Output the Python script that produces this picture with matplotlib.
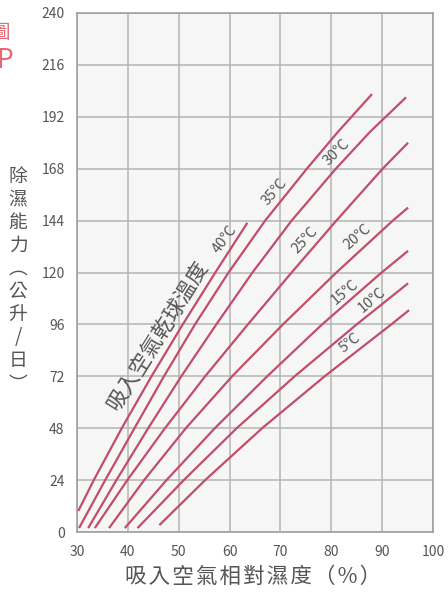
import matplotlib
matplotlib.use("Agg")
import matplotlib.pyplot as plt

plt.rcParams['font.family'] = ['Noto Sans CJK TC', 'DejaVu Sans']

# ---- data ----
temps = ["40℃", "35℃", "30℃", "25℃", "20℃", "15℃", "10℃", "5℃"]
rh_40 = [30.25, 33.3, 38.8, 44.65, 50.8, 57.2, 63.5]
cap_40 = [9.7, 24, 48, 72, 96, 120, 143]
rh_35 = [30.4, 35.55, 41.3, 47.1, 53.2, 59.8, 67.0, 75.2, 81.3, 88.0]
cap_35 = [1.8, 24, 48, 72, 96, 120, 144, 168, 185, 202.5]
rh_30 = [32.2, 37.75, 44.0, 50.5, 57.4, 64.5, 72.2, 80.9, 87.6, 94.7]
cap_30 = [1.8, 24, 48, 72, 96, 120, 144, 168, 185, 201]
rh_25 = [33.5, 39.9, 47.3, 55.2, 63.6, 72.2, 81.0, 90.1, 95.1]
cap_25 = [1.8, 24, 48, 72, 96, 120, 144, 168, 180]
rh_20 = [36.3, 43.2, 51.4, 60.5, 70.5, 81.0, 92.1, 95.1]
cap_20 = [1.8, 24, 48, 72, 96, 120, 144, 150]
rh_15 = [39.4, 47.6, 57.1, 67.4, 78.2, 89.9, 95.1]
cap_15 = [1.8, 24, 48, 72, 96, 120, 130]
rh_10 = [41.9, 51.0, 61.4, 72.8, 85.0, 95.1]
cap_10 = [1.8, 24, 48, 72, 96, 115]
rh_5 = [46.2, 55.2, 66.4, 78.7, 91.8, 95.3]
cap_5 = [3.2, 24, 48, 72, 96, 102.6]

curves_x = [rh_40, rh_35, rh_30, rh_25, rh_20, rh_15, rh_10, rh_5]
curves_y = [cap_40, cap_35, cap_30, cap_25, cap_20, cap_15, cap_10, cap_5]

x_ticks = [30, 40, 50, 60, 70, 80, 90, 100]
y_ticks = [0, 24, 48, 72, 96, 120, 144, 168, 192, 216, 240]

# label placement (data coords) and rotation
label_pos = [(59.1, 135.5, 53), (68.9, 157.5, 49), (81.1, 175.5, 45), (74.8, 135.0, 47),
             (85.2, 136.5, 41), (82.7, 111.0, 40), (88.0, 107.3, 40), (83.7, 87.4, 38)]

line_color = "#c24d69"
grid_color = "#b4b4b4"
text_color = "#555555"

fig = plt.figure(figsize=(4.48, 5.94), dpi=100)
ax = fig.add_axes([77/448, 1-532/594, (433-77)/448, (532-13)/594])
ax.set_facecolor("#f6f6f6")

for xs, ys in zip(curves_x, curves_y):
    ax.plot(xs, ys, color=line_color, lw=1.6, solid_capstyle='butt',
            solid_joinstyle='round', zorder=3)

for t, (lx, ly, rot) in zip(temps, label_pos):
    ax.text(lx, ly, t, rotation=rot, ha='center', va='center', fontsize=10.5,
            color=text_color, rotation_mode='anchor', zorder=4)

ax.text(45.9, 90.5, "吸入空氣乾球溫度", rotation=58, ha='center', va='center',
        fontsize=15.5, color=text_color, rotation_mode='anchor', zorder=4)

ax.set_xlim(30, 100)
ax.set_ylim(0, 240)
ax.set_xticks(x_ticks)
ax.set_yticks(y_ticks)
ax.grid(True, color=grid_color, lw=1.1, zorder=1)
ax.set_axisbelow(True)
ax.tick_params(length=0, labelsize=10, labelcolor=text_color, pad=9)
for s in ax.spines.values():
    s.set_color("#a0a0a0")
    s.set_linewidth(1.2)

xlab = "\u200a".join(list("吸入空氣相對濕度（%）"))
fig.text(253/448, 1-577/594, xlab, ha='center', va='center',
         fontsize=15.5, color=text_color)

ylab = "\n".join(list("除濕能力︵公升/日︶"))
fig.text(18/448, 1-280/594, ylab, ha='center', va='center', fontsize=13.5,
         color=text_color, linespacing=1.13)

fig.text(10/448, 1-33/594, "圖", ha='right', va='center', fontsize=14, color="#e56a74")
fig.text(13/448, 1-61/594, "P", ha='right', va='center', fontsize=19, color="#e56a74")

fig.savefig("out.png", dpi=100)
